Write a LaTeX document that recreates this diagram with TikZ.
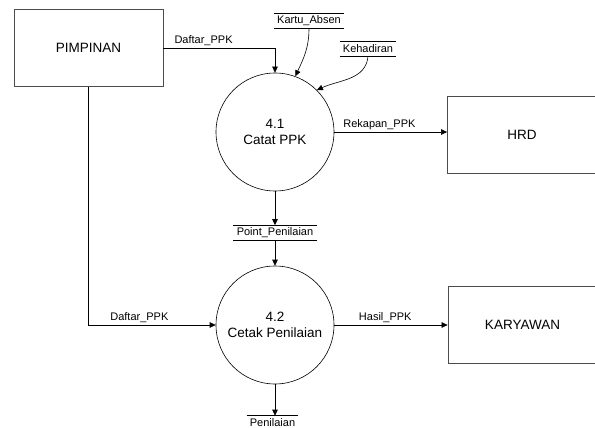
\documentclass[tikz,border=0pt]{standalone}
\usepackage{fontspec}
\setmainfont{Liberation Sans}
\usetikzlibrary{arrows.meta,positioning}

\tikzset{
  entitas/.style={shape=rectangle, draw=black!70, line width=0.8pt, minimum width=149pt, minimum height=77pt, font=\fontsize{13.5}{16}\selectfont},
  proses/.style={shape=circle, draw=black, minimum size=118pt, inner sep=0pt, align=center, font=\fontsize{13.5}{16}\selectfont},
  simpanan/.style={inner xsep=3pt, inner ysep=0pt, minimum height=14pt, font=\fontsize{11}{13}\selectfont,
    append after command={(\tikzlastnode.north west) edge (\tikzlastnode.north east)
                          (\tikzlastnode.south west) edge (\tikzlastnode.south east)}},
  aliran/.style={font=\fontsize{11}{13}\selectfont, inner sep=2pt},
  >={Triangle[length=6pt,width=5.5pt]}
}

\begin{document}
\begin{tikzpicture}[x=1pt, y=-1pt, line width=0.6pt]
\useasboundingbox (0,0) rectangle (595,428);

% Entitas luar
\node[entitas] (pimpinan) at (88.5,48) {PIMPINAN};
\node[entitas] (hrd) at (522,134.5) {HRD};
\node[entitas] (karyawan) at (522.5,325) {KARYAWAN};

% Proses
\node[proses] (p41) at (275,132) {4.1\\Catat PPK};
\node[proses] (p42) at (275,325) {4.2\\Cetak Penilaian};

% Simpanan data
\node[simpanan] (kartu) at (309,21) {Kartu\_Absen};
\node[simpanan] (hadir) at (368,49) {Kehadiran};
\node[simpanan] (point) at (275,232.5) {Point\_Penilaian};
\node[simpanan] (nilai) at (272.5,423) {Penilaian};

% Aliran data
\draw[->] (pimpinan.east) -| node[aliran, above, pos=0.18] {Daftar\_PPK} (p41.north);
\draw[->] (kartu.south) to[out=-90, in=65] (p41.70);
\draw[->] (hadir.south) to[out=-95, in=25] (p41.45);
\draw[->] (p41.east) -- node[aliran, above, pos=0.4] {Rekapan\_PPK} (p41.east -| hrd.west);
\draw[->] (p41.south) -- (point.north);
\draw[->] (point.south) -- (p42.north);
\draw[->] (pimpinan.south) |- node[aliran, above, pos=0.7] {Daftar\_PPK} (p42.west);
\draw[->] (p42.east) -- node[aliran, above, pos=0.45] {Hasil\_PPK} (p42.east -| karyawan.west);
\draw[->] (p42.south) -- (p42.south |- nilai.north);
\end{tikzpicture}
\end{document}
